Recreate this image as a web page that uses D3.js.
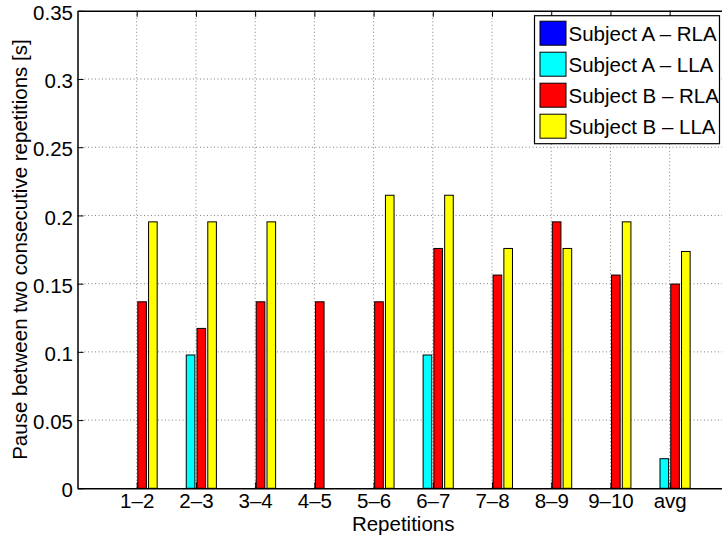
<!DOCTYPE html>
<html>
<head>
<meta charset="utf-8">
<script src="https://cdn.jsdelivr.net/npm/d3@7"></script>
<style>
  html, body { margin: 0; padding: 0; background: #fff; }
  svg { display: block; }
  text { font-family: "Liberation Sans", Arial, Helvetica, sans-serif; fill: #000; }
</style>
</head>
<body>
<svg id="chart" width="722" height="538"></svg>
<script>
// Pause between consecutive repetitions, per subject and arm
const categories = ["1\u20132", "2\u20133", "3\u20134", "4\u20135", "5\u20136", "6\u20137", "7\u20138", "8\u20139", "9\u201310", "avg"];
const seriesNames = ["Subject A \u2013 RLA", "Subject A \u2013 LLA", "Subject B \u2013 RLA", "Subject B \u2013 LLA"];
const seriesColors = ["#0000ff", "#00ffff", "#ff0000", "#ffff00"];
const subjectA_RLA = [0, 0, 0, 0, 0, 0, 0, 0, 0, 0];
const subjectA_LLA = [0, 0.0977, 0, 0, 0, 0.0977, 0, 0, 0, 0.0217];
const subjectB_RLA = [0.1367, 0.1172, 0.1367, 0.1367, 0.1367, 0.1758, 0.1563, 0.1953, 0.1563, 0.1497];
const subjectB_LLA = [0.1953, 0.1953, 0.1953, 0, 0.2148, 0.2148, 0.1758, 0.1758, 0.1953, 0.1736];
const yTickValues = [0, 0.05, 0.1, 0.15, 0.2, 0.25, 0.3, 0.35];
const yTickLabels = ["0", "0.05", "0.1", "0.15", "0.2", "0.25", "0.3", "0.35"];
const xLabel = "Repetitions";
const yLabel = "Pause between two consecutive repetitions [s]";

const series = [subjectA_RLA, subjectA_LLA, subjectB_RLA, subjectB_LLA];

const svg = d3.select("#chart");
const plot = { left: 77.5, right: 728.9, top: 10.8, bottom: 488.3 };
const fontSize = 20.5;

const x = d3.scaleLinear().domain([0, categories.length + 1]).range([plot.left, plot.right]);
const y = d3.scaleLinear().domain([0, 0.35]).range([plot.bottom, plot.top]);

// grouped bar layout inside each category slot
const groupWidth = Math.min(0.8, series.length / (series.length + 1.5));
const inner = d3.scaleBand()
  .domain(d3.range(series.length))
  .range([-groupWidth / 2, groupWidth / 2])
  .paddingInner(0.2)
  .paddingOuter(0.1);

const tickLen = 6;
const gridStyle = g => g.attr("stroke", "#808080").attr("stroke-width", 1).attr("stroke-dasharray", "1,2.5");

// dotted grid
const grid = svg.append("g");
grid.selectAll("line.gx").data(categories).join("line")
  .attr("class", "gx")
  .attr("x1", (d, i) => x(i + 1)).attr("x2", (d, i) => x(i + 1))
  .attr("y1", plot.top).attr("y2", plot.bottom)
  .call(gridStyle);
grid.selectAll("line.gy").data(yTickValues.filter(v => v > 0 && v < 0.35)).join("line")
  .attr("class", "gy")
  .attr("x1", plot.left).attr("x2", plot.right)
  .attr("y1", d => y(d)).attr("y2", d => y(d))
  .call(gridStyle);

// bars
const bars = svg.append("g");
series.forEach((vals, s) => {
  bars.append("g").selectAll("rect").data(vals).join("rect")
    .attr("x", (d, i) => x(i + 1 + inner(s)))
    .attr("width", x(inner.bandwidth()) - x(0))
    .attr("y", d => y(d))
    .attr("height", d => y(0) - y(d))
    .attr("fill", seriesColors[s])
    .attr("stroke", "#000")
    .attr("stroke-width", 1);
});

// axes
const axisBottom = d3.axisBottom(x)
  .tickValues(d3.range(1, categories.length + 1))
  .tickFormat((d) => categories[d - 1])
  .tickSizeInner(-tickLen).tickSizeOuter(0).tickPadding(0);
const gx = svg.append("g").attr("transform", `translate(0,${plot.bottom})`).call(axisBottom);
gx.select(".domain").attr("stroke", "#000").attr("stroke-width", 1.5);
gx.selectAll(".tick line").attr("stroke", "#000");
gx.selectAll(".tick text").attr("font-size", fontSize).attr("font-family", null)
  .attr("y", 20.2).attr("dy", null);

const axisTop = d3.axisTop(x)
  .tickValues(d3.range(1, categories.length + 1))
  .tickFormat("")
  .tickSizeInner(-tickLen).tickSizeOuter(0);
const gt = svg.append("g").attr("transform", `translate(0,${plot.top})`).call(axisTop);
gt.select(".domain").attr("stroke", "#000").attr("stroke-width", 1.5);
gt.selectAll(".tick line").attr("stroke", "#000");

const axisLeft = d3.axisLeft(y)
  .tickValues(yTickValues)
  .tickFormat((d, i) => yTickLabels[i])
  .tickSizeInner(-tickLen).tickSizeOuter(0).tickPadding(4.5);
const gy = svg.append("g").attr("transform", `translate(${plot.left},0)`).call(axisLeft);
gy.select(".domain").attr("stroke", "#000").attr("stroke-width", 1.5);
gy.selectAll(".tick line").attr("stroke", "#000");
gy.selectAll(".tick text").attr("font-size", fontSize).attr("font-family", null).attr("dy", "0.42em");

// axis titles
svg.append("text")
  .attr("x", x((categories.length + 1) / 2)).attr("y", 530.5)
  .attr("text-anchor", "middle").attr("font-size", fontSize)
  .text(xLabel);
svg.append("text")
  .attr("transform", `translate(27,${(plot.top + plot.bottom) / 2}) rotate(-90)`)
  .attr("text-anchor", "middle").attr("font-size", fontSize)
  .text(yLabel);

// legend
const legend = svg.append("g");
const lg = { x: 534.5, y: 15.7, w: 185, h: 128, row: 31 };
legend.append("rect")
  .attr("x", lg.x).attr("y", lg.y).attr("width", lg.w).attr("height", lg.h)
  .attr("fill", "#fff").attr("stroke", "#000").attr("stroke-width", 1.2);
const items = legend.selectAll("g.item").data(seriesNames).join("g")
  .attr("class", "item")
  .attr("transform", (d, i) => `translate(${lg.x},${lg.y + 17.5 + i * lg.row})`);
items.append("rect")
  .attr("x", 5.5).attr("y", -12).attr("width", 26).attr("height", 24)
  .attr("fill", (d, i) => seriesColors[i])
  .attr("stroke", "#000").attr("stroke-width", 1);
items.append("text")
  .attr("x", 34).attr("y", 7.5)
  .attr("font-size", fontSize)
  .text(d => d);
</script>
</body>
</html>
